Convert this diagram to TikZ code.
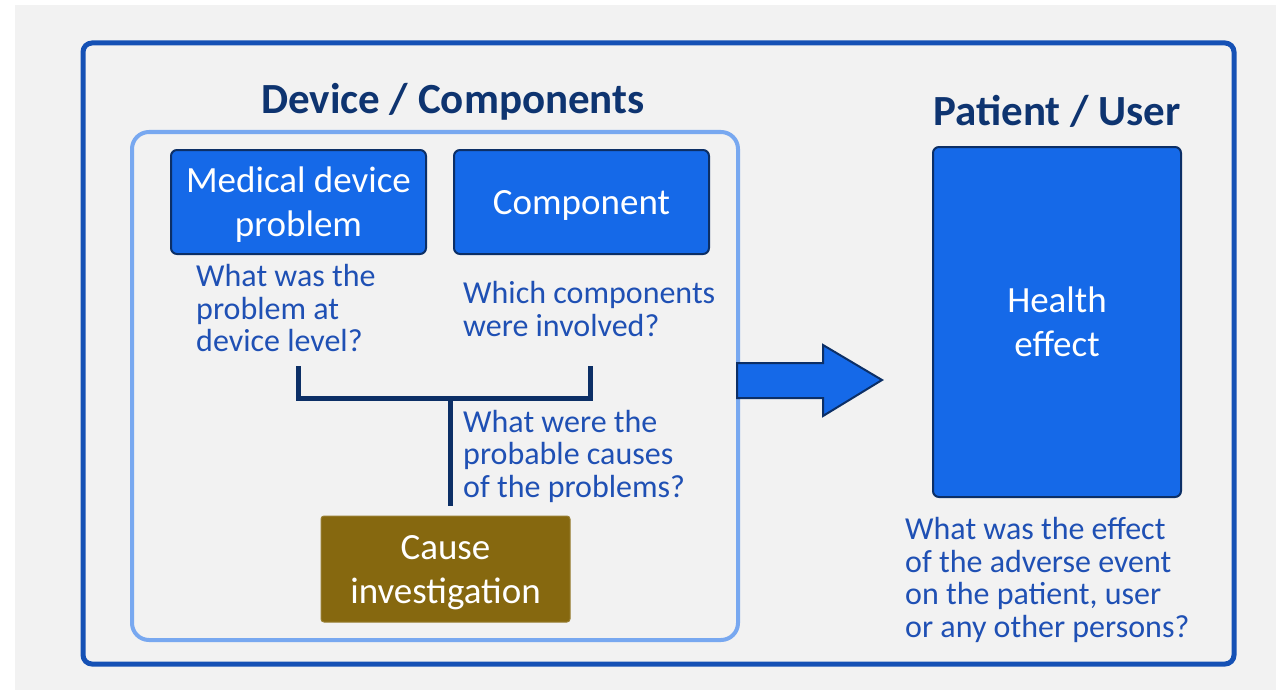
\documentclass[tikz,border=0pt]{standalone}
\usepackage{fontspec}
\setmainfont{Carlito}
\definecolor{bgray}{HTML}{F2F2F2}
\definecolor{frameblue}{HTML}{1551B5}
\definecolor{lightframe}{HTML}{78A8F0}
\definecolor{navy}{HTML}{0E3470}
\definecolor{boxblue}{HTML}{1569E8}
\definecolor{boxline}{HTML}{0C2F66}
\definecolor{qblue}{HTML}{1F50B4}
\definecolor{causebrown}{HTML}{86680F}
% line without descender depth, so box text sits as in the original
\newcommand{\nodesc}[1]{\raisebox{0pt}[\height][0pt]{#1}}
\tikzset{
  bluebox/.style={draw=boxline, line width=2pt, fill=boxblue, rounded corners=6pt,
    text=white, align=center, font=\fontsize{37}{44}\selectfont},
  question/.style={anchor=west, inner sep=0pt, text=qblue, align=left,
    font=\fontsize{32}{32.5}\selectfont},
  heading/.style={text=navy, font=\fontsize{43}{50}\selectfont\bfseries},
}
\begin{document}
\begin{tikzpicture}[x=1pt, y=-1pt]
 % page and frames
 \fill[white] (0,0) rectangle (1276,690);
 \fill[bgray] (15,5) rectangle (1276,690);
 \draw[frameblue, line width=5pt, rounded corners=9pt] (83,43) rectangle (1234,664);
 \draw[lightframe, line width=4pt, rounded corners=17pt] (132,132) rectangle (738,640);
 \node[heading] (devtitle) at (453,102) {Device / Components};
 \node[heading] (pattitle) at (1057,111) {Patient / User};
 % boxes
 \node[bluebox, minimum width=255pt, minimum height=104pt] (problem) at (298.5,202) {Medical device\\\nodesc{problem}};
 \node[bluebox, minimum width=255pt, minimum height=104pt] (component) at (581.5,202) {\nodesc{Component}};
 \node[bluebox, minimum width=248pt, minimum height=350pt] (health) at (1057,322) {Health\\effect};
 \node[fill=causebrown, draw=causebrown!85!white, line width=1pt, rounded corners=3pt,
   text=white, align=center, font=\fontsize{37}{44}\selectfont,
   minimum width=249pt, minimum height=106pt] (cause) at (445.5,569) {Cause\\\nodesc{investigation}};
 % questions
 \node[question] (qproblem) at (196,308) {What was the\\problem at\\device level?};
 \node[question] (qcomp) at (463,309) {Which components\\were involved?};
 \node[question] (qcause) at (463,456) {What were the\\probable causes\\of the problems?};
 \node[question] (qhealth) at (905,580) {What was the effect\\of the adverse event\\on the patient, user\\or any other persons?};
 % bracket
 \coordinate (bl) at (298,366);
 \coordinate (br) at (590,366);
 \coordinate (bmid) at (450,398);
 \coordinate (stemend) at (450,506);
 \draw[boxline, line width=5pt, line join=miter] (bl) |- (bmid) -| (br);
 \draw[boxline, line width=5pt] (bmid) -- (stemend);
 % block arrow
 \draw[boxline, fill=boxblue, line width=2pt, line join=miter]
   (737,363) -- (823,363) -- (823,345) -- (882,380) -- (823,416) -- (823,398) -- (737,398) -- cycle;
\end{tikzpicture}
\end{document}
